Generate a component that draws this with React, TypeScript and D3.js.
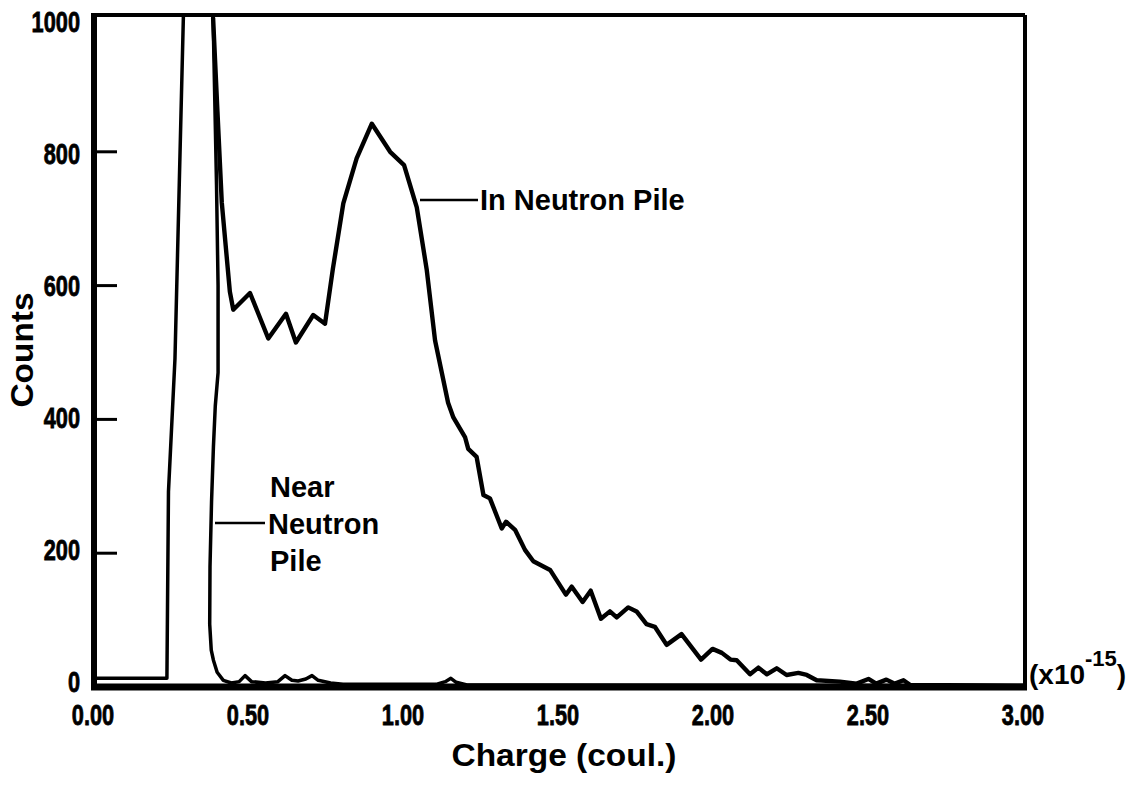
import React from "react";
import * as d3 from "d3";

// ---- Data (charge in units of 1e-15 coul., counts) ----
const inPileCharge = [
  0.381, 0.395, 0.409, 0.435, 0.446, 0.5, 0.559, 0.616, 0.648, 0.704, 0.742, 0.767,
  0.801, 0.844, 0.893, 0.952, 0.997, 1.038, 1.07, 1.097, 1.139, 1.156, 1.194, 1.204,
  1.231, 1.253, 1.274, 1.312, 1.326, 1.355, 1.387, 1.414, 1.468, 1.519, 1.538, 1.573,
  1.599, 1.632, 1.661, 1.683, 1.72, 1.747, 1.779, 1.806, 1.844, 1.892, 1.955, 1.992,
  2.022, 2.05, 2.07, 2.113, 2.14, 2.167, 2.199, 2.231, 2.269, 2.296, 2.328, 2.403,
  2.457, 2.495, 2.52, 2.553, 2.58, 2.608, 2.63, 3.0,
];
const inPileCounts = [
  1000, 860, 724, 591, 564, 589, 521, 558, 515, 556, 543, 624,
  723, 790, 842, 800, 780, 717, 624, 518, 425, 403, 373, 356,
  344, 287, 282, 237, 247, 235, 205, 188, 175, 138, 150, 127,
  144, 102, 113, 104, 119, 113, 94, 90, 63, 79, 41, 57,
  51, 41, 40, 19, 29, 19, 28, 18, 21, 18, 10, 8,
  5, 12, 5, 11, 5, 10, 3, 2,
];

const nearCharge = [
  0, 0.232, 0.237, 0.258, 0.285, 0.29, 0.376, 0.381, 0.392, 0.397, 0.397, 0.388,
  0.382, 0.376, 0.371, 0.37, 0.375, 0.382, 0.394, 0.414, 0.44, 0.465, 0.484, 0.505,
  0.55, 0.59, 0.613, 0.635, 0.655, 0.68, 0.7, 0.72, 0.76, 0.8, 1.1, 1.13,
  1.148, 1.165, 1.2, 3.0,
];
const nearCounts = [
  13, 13, 292, 491, 1000, 1100, 1100, 1000, 750, 600, 470, 420,
  359, 278, 180, 94, 55, 40, 22, 10, 6, 8, 17, 8,
  6, 8, 17, 10, 9, 12, 17, 10, 6, 4, 4, 8,
  13, 7, 3, 2,
];

const yTicks = [0, 200, 400, 600, 800, 1000];
const yTickLabels = ["0", "200", "400", "600", "800", "1000"];
const xTicks = [0, 0.5, 1.0, 1.5, 2.0, 2.5, 3.0];
const xTickLabels = ["0.00", "0.50", "1.00", "1.50", "2.00", "2.50", "3.00"];

const W = 1127;
const H = 788;
const left = 95;
const right = 1025;
const top = 15;
const bottom = 687;

export default function App() {
  const x = d3.scaleLinear().domain([0, 3]).range([left, right]);
  const y = d3.scaleLinear().domain([0, 1000]).range([bottom, 18]);
  const yLab = d3.scaleLinear().domain([0, 1000]).range([682, 22]);

  const inPile: [number, number][] = inPileCharge.map((c, i) => [c, inPileCounts[i]]);
  const near: [number, number][] = nearCharge.map((c, i) => [c, nearCounts[i]]);

  const line = d3
    .line<[number, number]>()
    .x((d) => x(d[0]))
    .y((d) => y(d[1]));

  const font = "'Liberation Sans', Arial, Helvetica, sans-serif";

  return (
    <svg
      width={W}
      height={H}
      style={{ position: "absolute", left: 0, top: 0, background: "#fff" }}
      fontFamily={font}
      fontWeight="bold"
    >
      <defs>
        <clipPath id="plotClip">
          <rect x={left} y={top} width={right - left} height={bottom - top + 4} />
        </clipPath>
      </defs>
      <rect x={0} y={0} width={W} height={H} fill="#fff" />

      {/* curves */}
      <g clipPath="url(#plotClip)" fill="none" stroke="#000" strokeLinejoin="round" strokeLinecap="round">
        <path d={line(near) || ""} strokeWidth={3.5} />
        <path d={line(inPile) || ""} strokeWidth={4.4} />
      </g>

      {/* frame */}
      <line x1={left - 3} x2={right} y1={top} y2={top} stroke="#000" strokeWidth={4} />
      <line x1={right} x2={right} y1={top} y2={bottom} stroke="#000" strokeWidth={4} />
      <line x1={left - 1} x2={left - 1} y1={top - 2} y2={bottom + 3} stroke="#000" strokeWidth={6} />
      <line x1={left - 4} x2={right + 2} y1={bottom} y2={bottom} stroke="#000" strokeWidth={7} />

      {/* y ticks */}
      {yTicks
        .filter((t) => t > 0 && t < 1000)
        .map((t) => (
          <line key={"yt" + t} x1={left} x2={117} y1={y(t)} y2={y(t)} stroke="#000" strokeWidth={3} />
        ))}

      {/* y tick labels */}
      {yTicks.map((t, i) => (
        <text
          key={"yl" + t}
          transform={`translate(80,${yLab(t) + 10}) scale(0.75,1)`}
          textAnchor="end"
          fontSize={29}
          stroke="#000"
          strokeWidth={0.8}
        >
          {yTickLabels[i]}
        </text>
      ))}

      {/* x tick labels */}
      {xTicks.map((t, i) => (
        <text
          key={"xl" + t}
          transform={`translate(${x(t) - 2},725) scale(0.75,1)`}
          textAnchor="middle"
          fontSize={29}
          stroke="#000"
          strokeWidth={0.8}
        >
          {xTickLabels[i]}
        </text>
      ))}

      {/* exponent */}
      <text x={1029} y={684} fontSize={28}>
        <tspan>(x10</tspan>
        <tspan dy={-18} fontSize={22}>-15</tspan>
        <tspan dy={18} fontSize={28}>)</tspan>
      </text>

      {/* axis titles */}
      <text
        transform="translate(33,350) rotate(-90)"
        textAnchor="middle"
        fontSize={32}
        textLength={115}
        lengthAdjust="spacingAndGlyphs"
      >
        Counts
      </text>
      <text
        x={564}
        y={766}
        textAnchor="middle"
        fontSize={32}
        textLength={225}
        lengthAdjust="spacingAndGlyphs"
      >
        Charge (coul.)
      </text>

      {/* annotations */}
      <line x1={420} x2={478} y1={200} y2={200} stroke="#000" strokeWidth={2.5} />
      <text x={480} y={210} fontSize={29}>
        In Neutron Pile
      </text>

      <line x1={215} x2={265} y1={523} y2={523} stroke="#000" strokeWidth={2.5} />
      <text x={270} y={497} fontSize={29}>Near</text>
      <text x={268} y={534} fontSize={29}>Neutron</text>
      <text x={270} y={571} fontSize={29}>Pile</text>
    </svg>
  );
}
